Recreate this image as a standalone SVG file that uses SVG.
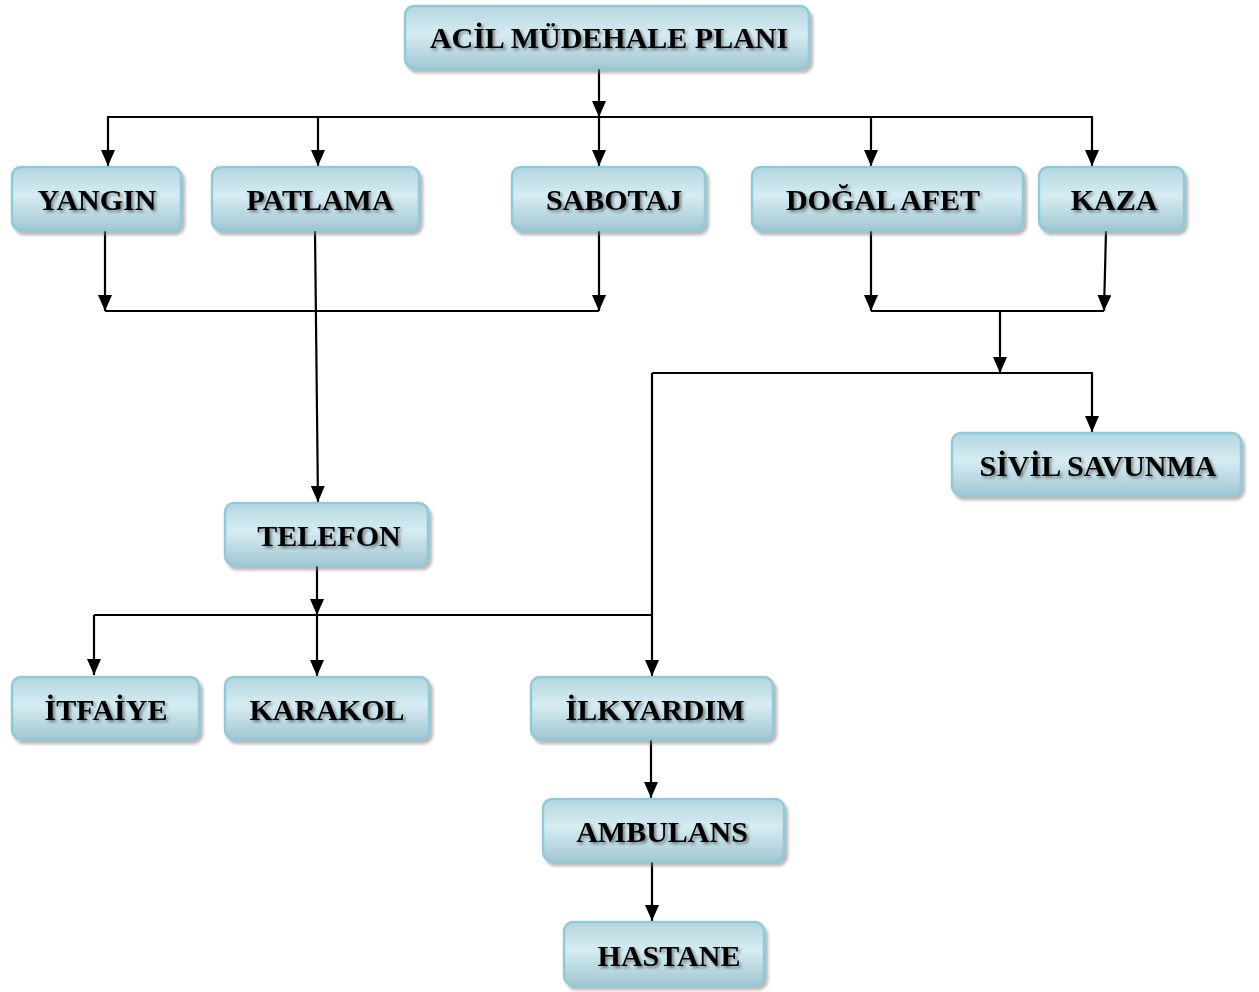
<svg xmlns="http://www.w3.org/2000/svg" width="1259" height="992" viewBox="0 0 1259 992">
<defs>
<linearGradient id="g" x1="0" y1="0" x2="0" y2="1">
<stop offset="0" stop-color="#b3d5de"/>
<stop offset="0.45" stop-color="#d6ecf2"/>
<stop offset="1" stop-color="#a2c7d1"/>
</linearGradient>
<filter id="sh" x="-10%" y="-20%" width="120%" height="150%">
<feDropShadow dx="3" dy="4" stdDeviation="1.5" flood-color="#7f7f7f" flood-opacity="0.55"/>
</filter>
<filter id="ts" x="-10%" y="-30%" width="120%" height="160%">
<feDropShadow dx="2" dy="2" stdDeviation="1.5" flood-color="#000" flood-opacity="0.45"/>
</filter>
<marker id="a" viewBox="0 0 16 14" refX="16" refY="7" markerWidth="16" markerHeight="14" markerUnits="userSpaceOnUse" orient="auto">
<path d="M0,0 L16,7 L0,14 Z" fill="#000"/>
</marker>
</defs>
<style>
.box{fill:url(#g);stroke:#8dcadb;stroke-width:2.5;filter:url(#sh)}
.t{font-family:"Liberation Serif","Times New Roman",serif;font-weight:bold;font-size:30px;fill:#000;text-anchor:middle;filter:url(#ts)}
.c{stroke:#000;stroke-width:2.2;fill:none}
.ar{marker-end:url(#a)}
</style>
<g id="connectors">
<line class="c ar" x1="599" y1="68" x2="599" y2="117"/>
<line class="c" x1="107" y1="117" x2="1093" y2="117"/>
<line class="c ar" x1="108" y1="117" x2="108" y2="166"/>
<line class="c ar" x1="318" y1="117" x2="318" y2="166"/>
<line class="c ar" x1="599" y1="117" x2="599" y2="166"/>
<line class="c ar" x1="871" y1="117" x2="871" y2="166"/>
<line class="c ar" x1="1092" y1="117" x2="1092" y2="166"/>
<line class="c ar" x1="105" y1="231" x2="105" y2="311"/>
<line class="c ar" x1="599" y1="231" x2="599" y2="311"/>
<line class="c" x1="105" y1="311" x2="599" y2="311"/>
<line class="c ar" x1="315" y1="231" x2="318" y2="502"/>
<line class="c ar" x1="871" y1="231" x2="871" y2="311"/>
<line class="c ar" x1="1106" y1="231" x2="1104" y2="311"/>
<line class="c" x1="871" y1="311" x2="1104" y2="311"/>
<line class="c ar" x1="1000" y1="311" x2="1000" y2="373"/>
<line class="c" x1="652" y1="373" x2="1093" y2="373"/>
<line class="c ar" x1="1092" y1="373" x2="1092" y2="432"/>
<line class="c ar" x1="652" y1="373" x2="652" y2="676"/>
<line class="c ar" x1="317" y1="566" x2="317" y2="615"/>
<line class="c" x1="94" y1="615" x2="652" y2="615"/>
<line class="c ar" x1="94" y1="615" x2="94" y2="675"/>
<line class="c ar" x1="317" y1="615" x2="317" y2="676"/>
<line class="c ar" x1="651" y1="740" x2="651" y2="798"/>
<line class="c ar" x1="652" y1="862" x2="652" y2="921"/>
</g>
<g id="acil"><rect class="box" x="405" y="6" width="404" height="62" rx="9"/><text class="t" x="609" y="48">ACİL MÜDEHALE PLANI</text></g>
<g id="yangin"><rect class="box" x="12" y="167" width="169" height="63" rx="9"/><text class="t" x="97" y="210">YANGIN</text></g>
<g id="patlama"><rect class="box" x="212" y="167" width="207" height="63" rx="9"/><text class="t" x="320" y="210">PATLAMA</text></g>
<g id="sabotaj"><rect class="box" x="512" y="167" width="193" height="63" rx="9"/><text class="t" x="614" y="210">SABOTAJ</text></g>
<g id="dogal"><rect class="box" x="752" y="167" width="271" height="63" rx="9"/><text class="t" x="883" y="210">DOĞAL AFET</text></g>
<g id="kaza"><rect class="box" x="1039" y="167" width="145" height="63" rx="9"/><text class="t" x="1114" y="210">KAZA</text></g>
<g id="sivil"><rect class="box" x="952" y="433" width="289" height="62" rx="9"/><text class="t" x="1098" y="476">SİVİL SAVUNMA</text></g>
<g id="telefon"><rect class="box" x="225" y="503" width="203" height="62" rx="9"/><text class="t" x="329" y="546">TELEFON</text></g>
<g id="itfaiye"><rect class="box" x="12" y="677" width="187" height="62" rx="9"/><text class="t" x="106" y="720">İTFAİYE</text></g>
<g id="karakol"><rect class="box" x="225" y="677" width="204" height="62" rx="9"/><text class="t" x="327" y="720">KARAKOL</text></g>
<g id="ilkyardim"><rect class="box" x="531" y="677" width="242" height="62" rx="9"/><text class="t" x="655" y="720">İLKYARDIM</text></g>
<g id="ambulans"><rect class="box" x="543" y="799" width="241" height="62" rx="9"/><text class="t" x="662" y="842">AMBULANS</text></g>
<g id="hastane"><rect class="box" x="564" y="922" width="200" height="63" rx="9"/><text class="t" x="669" y="966">HASTANE</text></g>
</svg>
